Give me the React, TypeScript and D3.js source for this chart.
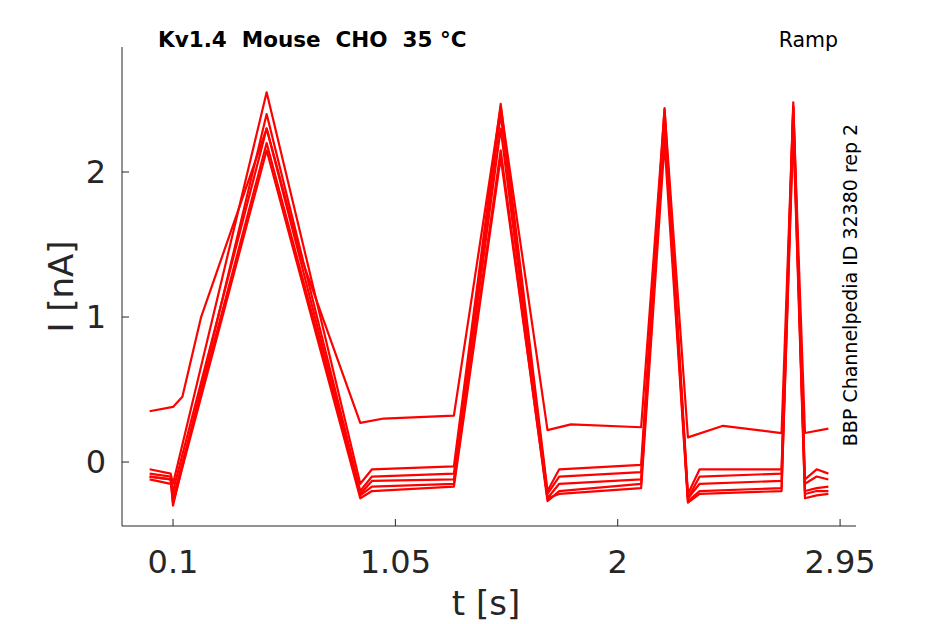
import React from "react";
import * as d3 from "d3";

const xTicks = [0.1, 1.05, 2, 2.95];
const xTickLabels = ["0.1", "1.05", "2", "2.95"];
const yTicks = [0, 1, 2];

const timesHigh = [0, 0.1, 0.14, 0.22, 0.5, 0.65, 0.9, 1.0, 1.3, 1.5, 1.7, 1.8, 2.1, 2.2, 2.3, 2.45, 2.7, 2.75, 2.8, 2.9];
const traceHigh = [0.35, 0.38, 0.45, 1.0, 2.3, 1.4, 0.27, 0.3, 0.32, 2.45, 0.22, 0.26, 0.24, 2.43, 0.17, 0.25, 0.2, 2.45, 0.2, 0.23];

const timesLow = [0, 0.09, 0.1, 0.5, 0.9, 0.95, 1.3, 1.5, 1.7, 1.75, 2.1, 2.2, 2.3, 2.35, 2.7, 2.75, 2.8, 2.85, 2.9];
const traceB = [-0.05, -0.08, -0.15, 2.55, -0.15, -0.05, -0.03, 2.47, -0.2, -0.05, -0.02, 2.44, -0.22, -0.05, -0.05, 2.48, -0.12, -0.05, -0.08];
const traceC = [-0.1, -0.12, -0.3, 2.4, -0.2, -0.1, -0.08, 2.4, -0.22, -0.1, -0.07, 2.4, -0.25, -0.1, -0.08, 2.45, -0.15, -0.1, -0.12];
const traceD = [-0.12, -0.15, -0.2, 2.3, -0.22, -0.13, -0.12, 2.3, -0.25, -0.15, -0.12, 2.35, -0.25, -0.15, -0.13, 2.4, -0.2, -0.18, -0.17];
const traceE = [-0.08, -0.1, -0.25, 2.2, -0.23, -0.17, -0.15, 2.15, -0.27, -0.2, -0.15, 2.3, -0.27, -0.2, -0.18, 2.35, -0.22, -0.2, -0.2];
const traceF = [-0.1, -0.12, -0.28, 2.15, -0.25, -0.2, -0.17, 2.1, -0.25, -0.22, -0.18, 2.2, -0.28, -0.22, -0.2, 2.3, -0.25, -0.23, -0.22];

const traces = [
  { t: timesHigh, v: traceHigh },
  { t: timesLow, v: traceB },
  { t: timesLow, v: traceC },
  { t: timesLow, v: traceD },
  { t: timesLow, v: traceE },
  { t: timesLow, v: traceF },
];

export default function App() {
  const W = 945, H = 624;
  const L = 122, R = 856, T = 47, B = 526;
  const x = d3.scaleLinear().domain([-0.118, 3.018]).range([L, R]);
  const y = d3.scaleLinear().domain([-0.441, 2.862]).range([B, T]);
  const line = d3.line<[number, number]>().x(d => x(d[0])).y(d => y(d[1]));
  const ax = "#262626";
  const font = "DejaVu Sans, sans-serif";
  return (
    <svg width={W} height={H} style={{ position: "absolute", left: 0, top: 0, background: "#fff" }} fontFamily={font}>
      {traces.map((tr, i) => (
        <path key={i} d={line(tr.t.map((t, j) => [t, tr.v[j]] as [number, number])) || ""} fill="none" stroke="#ff0000" strokeWidth={2.2} strokeLinejoin="round" />
      ))}
      <line x1={L} y1={T} x2={L} y2={B} stroke={ax} strokeWidth={1} />
      <line x1={L} y1={B} x2={R} y2={B} stroke={ax} strokeWidth={1} />
      {xTicks.map((t, i) => (
        <g key={t}>
          <line x1={x(t)} x2={x(t)} y1={B} y2={B - 7} stroke={ax} />
          <text x={x(t)} y={B + 47} textAnchor="middle" fontSize={32} fill={ax}>{xTickLabels[i]}</text>
        </g>
      ))}
      {yTicks.map(t => (
        <g key={t}>
          <line x1={L} x2={L + 7} y1={y(t)} y2={y(t)} stroke={ax} />
          <text x={L - 16} y={y(t) + 11} textAnchor="end" fontSize={32} fill={ax}>{t}</text>
        </g>
      ))}
      <text x={486} y={615} textAnchor="middle" fontSize={34} fill={ax}>t [s]</text>
      <text transform={`translate(73,${(T + B) / 2}) rotate(-90)`} textAnchor="middle" fontSize={34} fill={ax}>I [nA]</text>
      <text x={158} y={47} fontSize={21.5} fontWeight="bold" fill="#000" style={{ whiteSpace: "pre" }}>Kv1.4  Mouse  CHO  35 °C</text>
      <text x={838} y={47} textAnchor="end" fontSize={20.5} fill="#000">Ramp</text>
      <text transform={`translate(857,${285}) rotate(-90)`} textAnchor="middle" fontSize={19} fill="#000">BBP Channelpedia ID 32380 rep 2</text>
    </svg>
  );
}
